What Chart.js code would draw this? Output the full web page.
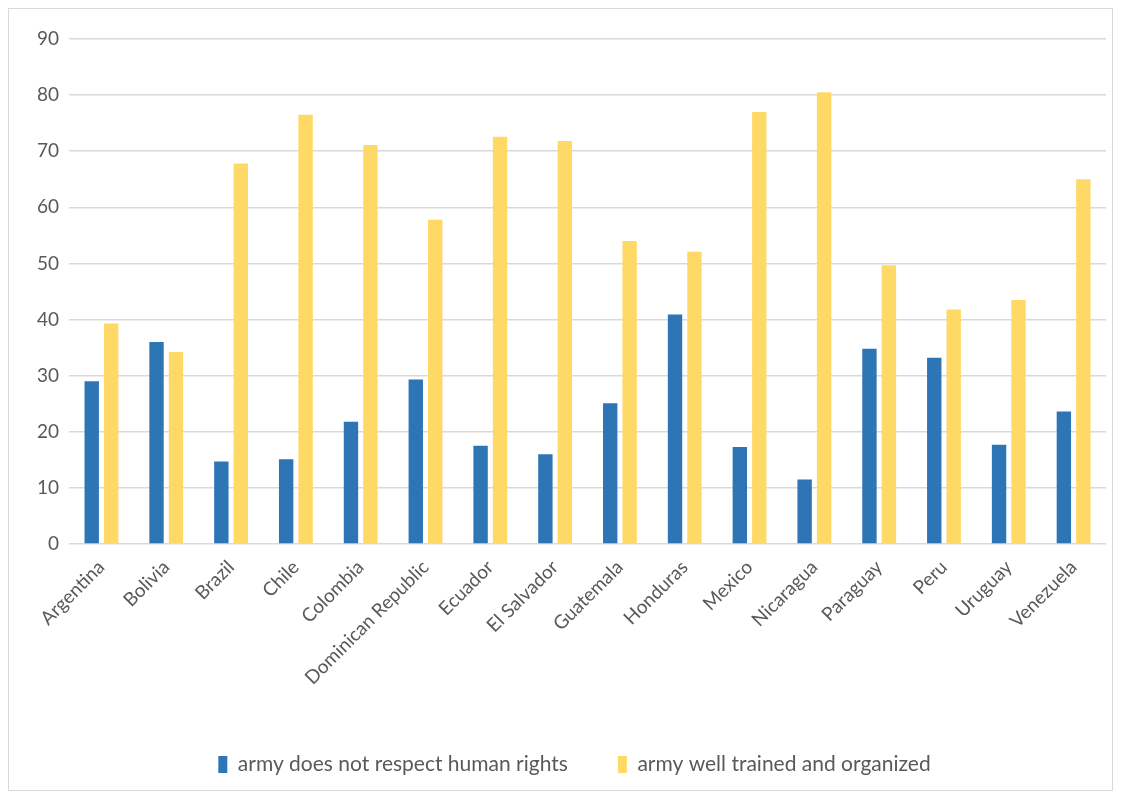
<!DOCTYPE html>
<html>
<head>
<meta charset="utf-8">
<script src="https://cdn.jsdelivr.net/npm/chart.js@4"></script>
<style>
  html, body { margin: 0; padding: 0; background: #fff; }
  #box {
    position: absolute; left: 8px; top: 8px;
    width: 1103px; height: 781px;
    border: 1px solid #d9d9d9;
  }
</style>
</head>
<body>
<div id="box"><canvas id="chartBar" width="1103" height="781"></canvas></div>
<script>
const countries = ["Argentina", "Bolivia", "Brazil", "Chile", "Colombia", "Dominican Republic",
  "Ecuador", "El Salvador", "Guatemala", "Honduras", "Mexico", "Nicaragua",
  "Paraguay", "Peru", "Uruguay", "Venezuela"];
const noRespect = [29.0, 36.0, 14.7, 15.1, 21.8, 29.3, 17.5, 16.0, 25.1, 40.9, 17.3, 11.5, 34.8, 33.2, 17.7, 23.6];
const wellTrained = [39.3, 34.2, 67.8, 76.5, 71.1, 57.8, 72.6, 71.8, 54.0, 52.1, 77.0, 80.5, 49.7, 41.8, 43.5, 65.0];
const yTicks = [0, 10, 20, 30, 40, 50, 60, 70, 80, 90];

const dataBar = {
  labels: countries,
  datasets: [
    {
      label: "army does not respect human rights",
      data: noRespect,
      backgroundColor: "#2e75b6",
    },
    {
      label: "army well trained and organized",
      data: wellTrained,
      backgroundColor: "#ffd966",
    },
  ],
};

// nudge the legend a little to the right, as in the original
const shiftLegend = {
  id: "shiftLegend",
  afterLayout(chart) {
    chart.legend.left += 8;
    chart.legend.right += 8;
  },
};

const chartBar = new Chart(document.getElementById("chartBar"), {
  type: "bar",
  data: dataBar,
  plugins: [shiftLegend],
  options: {
    responsive: false,
    animation: false,
    devicePixelRatio: 1,
    datasets: { bar: { categoryPercentage: 0.6, barPercentage: 0.74 } },
    layout: { padding: { left: 18, right: 6, top: 30, bottom: 5 } },
    plugins: {
      tooltip: { enabled: false },
      legend: {
        position: "bottom",
        labels: {
          font: { family: "Lato", size: 21 },
          color: "#595959",
          boxWidth: 9,
          boxHeight: 17,
          padding: 50,
        },
      },
    },
    scales: {
      x: {
        grid: { display: false },
        border: { display: false },
        ticks: {
          minRotation: 45,
          maxRotation: 45,
          color: "#595959",
          font: { family: "Lato", size: 19 },
          padding: 4,
        },
        // leave room for the legend below
        afterFit: (s) => { s.height = 160; },
      },
      y: {
        min: 0,
        max: 90,
        afterBuildTicks: (s) => { s.ticks = yTicks.map(v => ({ value: v })); },
        grid: { color: "#d9d9d9", lineWidth: 1.5, drawTicks: false },
        border: { display: false },
        ticks: {
          color: "#595959",
          font: { family: "Lato", size: 19 },
          padding: 10,
        },
      },
    },
  },
});
</script>
</body>
</html>
